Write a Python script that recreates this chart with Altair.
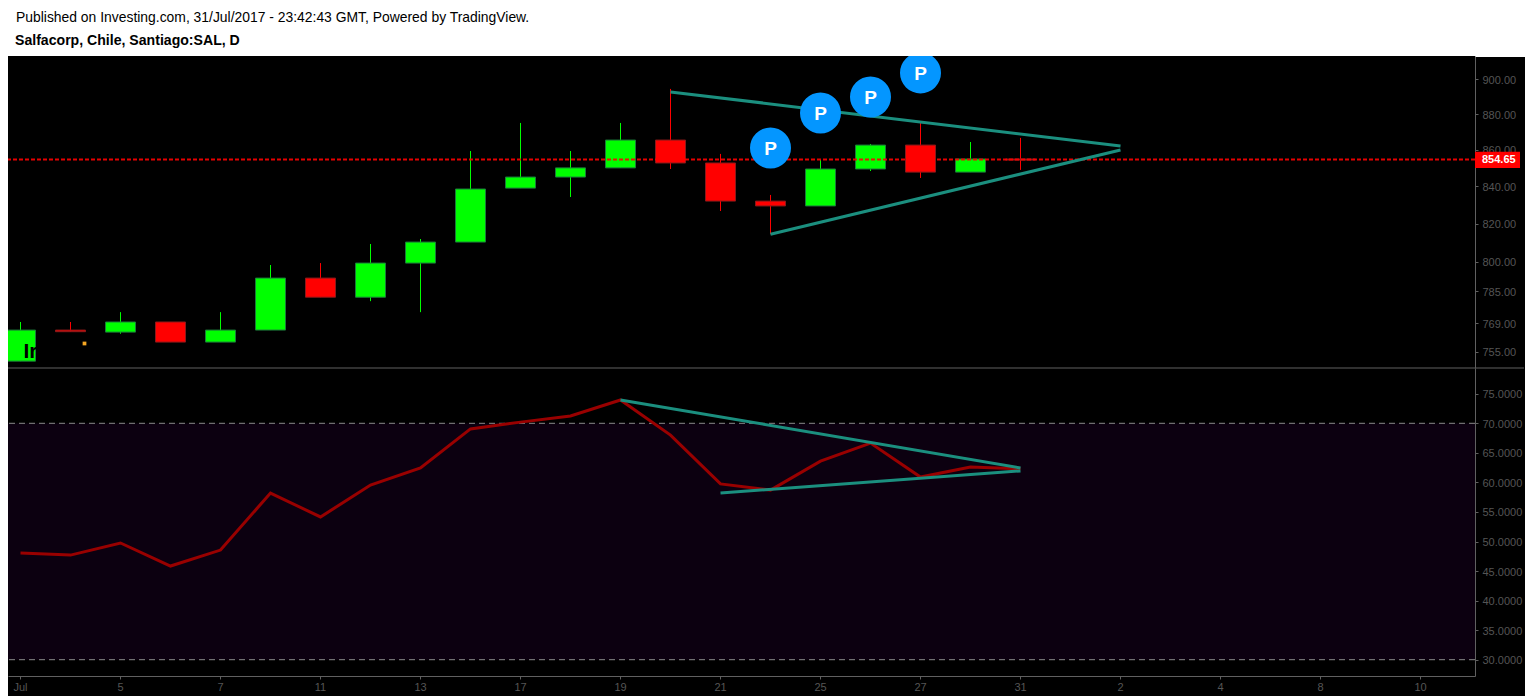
import altair as alt
import pandas as pd

FONT = "Liberation Sans"
header_lines = ["Published on Investing.com, 31/Jul/2017 - 23:42:43 GMT, Powered by TradingView.",
                "Salfacorp, Chile, Santiago:SAL, D"]
header_x = [8, 7]
header_y = [14, 37]
header_w = ["normal", "bold"]

idx = list(range(21))
opens  = [750.4,765.6,764.6,769.6,759.7,765.6,791.7,782.0,799.4,810.3,839.0,845.0,850.0,865.4,852.7,832.0,829.4,849.4,862.6,847.7,854.9]
closes = [765.6,764.8,769.6,759.7,765.6,791.7,782.0,799.4,810.3,838.5,845.0,850.0,865.4,852.7,832.0,829.4,849.4,862.6,847.7,854.9,854.3]
highs  = [769.6,769.6,774.5,769.6,774.5,798.4,799.4,809.3,811.9,859.3,875.0,859.3,875.0,894.4,857.7,835.3,854.3,863.2,876.1,864.3,866.6]
lows   = [750.4,764.8,763.8,759.7,759.7,765.6,782.0,780.0,774.5,810.3,839.0,834.2,850.0,849.4,826.7,814.4,829.4,848.3,844.5,847.7,848.9]
rsi    = [48.05,47.7,49.75,45.85,48.55,58.2,54.15,59.55,62.45,69.05,70.2,71.25,73.95,68.0,59.75,58.7,63.6,66.65,60.9,62.6,62.3]

price_ticks = [755,769,785,800,820,840,860,880,900]
rsi_ticks = [30,35,40,45,50,55,60,65,70,75]
x_tick_pos = [0,2,4,6,8,10,12,14,16,18,20,22,24,26,28]
x_tick_lab = ["Jul","5","7","11","13","17","19","21","25","27","31","2","4","8","10"]
last_price = 854.65

tri_top_x = [13,22]; tri_top_y = [892.7,862.1]
tri_low_x = [15,22]; tri_low_y = [814.4,859.9]
rsi_top_x = [12,20]; rsi_top_y = [73.95,62.45]
rsi_low_x = [14,20]; rsi_low_y = [58.2,61.95]
p_x = [15,16,17,18]
p_y = [861.0,880.6,889.8,903.7]

BG="#000000"; AX="#606060"; LAB="#555555"; TEAL="#1B8F7F"

xscale = alt.Scale(domain=[-0.25,29.09], nice=False, zero=False, padding=0)
pscale = alt.Scale(type="log", domain=[747.1,913.6], nice=False, clamp=False)
rscale = alt.Scale(domain=[27.24,79.36], nice=False, zero=False)

expr = "{" + ",".join(f"'{p}':'{l}'" for p,l in zip(x_tick_pos,x_tick_lab)) + "}[datum.value]"

candles = pd.DataFrame(dict(i=idx,o=opens,c=closes,h=highs,l=lows))
candles["d"] = ["up" if c>=o else "down" for o,c in zip(opens,closes)]
colscale = alt.Scale(domain=["up","down"], range=["#00FF00","#FF0000"])
strokescale = alt.Scale(domain=["up","down"], range=["#1C7A3A","#8B1A1A"])

X = alt.X("i:Q", scale=xscale, axis=None)
yax = alt.Axis(orient="right", values=price_ticks, format=".2f", title=None, grid=False,
               domainColor=AX, tickColor=AX, tickSize=3, labelColor=LAB, labelFont=FONT,
               labelFontSize=11, labelPadding=4, labelOverlap=False, labelOffset=1)
def Yp(f):
    return alt.Y(f, scale=pscale, axis=yax)
wicks = alt.Chart(candles).mark_rule(strokeWidth=1, clip=True).encode(
    x=X, y=Yp("h:Q"), y2="l:Q",
    color=alt.Color("d:N", scale=colscale, legend=None))
bodies = alt.Chart(candles).mark_bar(size=30, strokeWidth=1, clip=True).encode(
    x=X, y=Yp("o:Q"), y2="c:Q",
    fill=alt.Fill("d:N", scale=colscale, legend=None),
    stroke=alt.Stroke("d:N", scale=strokescale, legend=None))
logo = alt.Chart(pd.DataFrame(dict(i=[0.06],v=[752.0],t=["Ir"]))).mark_text(
    font=FONT, fontSize=21, fontWeight="bold", color="#000000", align="left", baseline="alphabetic", clip=True
).encode(x=X, y=Yp("v:Q"), text="t:N")
dot = alt.Chart(pd.DataFrame(dict(i=[1.28],v=[759.0]))).mark_point(
    shape="square", filled=True, size=14, color="#F5A623", opacity=1).encode(x=X, y=Yp("v:Q"))
pline = alt.Chart(pd.DataFrame(dict(v=[last_price]))).mark_rule(
    color="#FF0000", strokeWidth=2, strokeDash=[4,2], opacity=0.9).encode(y=Yp("v:Q"))

def seg(xs, ys, Yf, Xf, w=3):
    return alt.Chart(pd.DataFrame(dict(i=xs,v=ys))).mark_line(color=TEAL, strokeWidth=w, clip=True).encode(
        x=Xf, y=Yf("v:Q"))

circ_df = pd.DataFrame(dict(i=p_x,v=p_y,t=["P"]*4))
circles = alt.Chart(circ_df).mark_circle(color="#0496FF", opacity=1, size=1681, clip=True).encode(
    x=X, y=Yp("v:Q"))
ptext = alt.Chart(circ_df).mark_text(font=FONT, fontSize=19, fontWeight="bold", color="#FFFFFF",
                                     align="center", baseline="middle", dy=1, clip=True).encode(
    x=X, y=Yp("v:Q"), text="t:N")
tag_df = pd.DataFrame(dict(a=[850.0],b=[858.9],m=[last_price],t=["854.65"]))
tag = alt.Chart(tag_df).mark_rect(color="#FF0000").encode(
    x=alt.value(1467), x2=alt.value(1512), y=Yp("a:Q"), y2="b:Q")
tagtext = alt.Chart(tag_df).mark_text(font=FONT, fontSize=11, fontWeight="bold", color="#FFFFFF", align="left", baseline="middle", dy=1).encode(
    x=alt.value(1474), y=Yp("m:Q"), text="t:N")

top = alt.layer(wicks, bodies, logo, dot, pline, seg(tri_top_x,tri_top_y,Yp,X), seg(tri_low_x,tri_low_y,Yp,X),
                circles, ptext, tag, tagtext).resolve_scale(color="independent").properties(width=1467, height=312)

# RSI
raxis = alt.Axis(orient="right", values=rsi_ticks, format=".4f", title=None, grid=False,
        domainColor=AX, tickColor=AX, tickSize=3, labelColor=LAB, labelFont=FONT, labelFontSize=11, labelPadding=4, labelOverlap=False, labelOffset=1)
def Yr(f):
    return alt.Y(f, scale=rscale, axis=raxis)
Xb = alt.X("i:Q", scale=xscale, axis=alt.Axis(values=x_tick_pos, labelExpr=expr, title=None, grid=False,
           domainColor=AX, tickColor=AX, tickSize=3, tickOffset=-0.5, labelColor=LAB, labelFont=FONT, labelFontSize=11, labelPadding=2, labelOverlap=False))
band = alt.Chart(pd.DataFrame(dict(a=[30],b=[70]))).mark_rect(color="#0C0010").encode(y=Yr("a:Q"), y2="b:Q")
lim = alt.Chart(pd.DataFrame(dict(v=[30,70]))).mark_rule(color="#8A8A8A", strokeWidth=1, strokeDash=[6,4]).encode(y=Yr("v:Q"))
rline = alt.Chart(pd.DataFrame(dict(i=idx,v=rsi))).mark_line(color="#990000", strokeWidth=3).encode(x=Xb, y=Yr("v:Q"))
sep = alt.Chart(pd.DataFrame(dict(k=[0]))).mark_rule(color=AX, strokeWidth=1, clip=False).encode(
    x=alt.value(0), x2=alt.value(1516), y=alt.value(0))
bottom = alt.layer(band, lim, rline, seg(rsi_top_x,rsi_top_y,Yr,Xb), seg(rsi_low_x,rsi_low_y,Yr,Xb), sep).properties(width=1467, height=308)

hdf = pd.DataFrame(dict(t=header_lines,x=header_x,y=header_y,w=header_w))
head = alt.Chart(hdf).mark_text(
    font=FONT, fontSize=13.9, align="left", baseline="alphabetic", color="#000000"
).encode(x=alt.X("x:Q", scale=None), y=alt.Y("y:Q", scale=None), text="t:N",
         ).transform_filter("datum.w=='normal'")
head2 = alt.Chart(hdf).mark_text(
    font=FONT, fontSize=14.1, fontWeight="bold", align="left", baseline="alphabetic", color="#000000"
).encode(x=alt.X("x:Q", scale=None), y=alt.Y("y:Q", scale=None), text="t:N",
         ).transform_filter("datum.w=='bold'")
header = alt.layer(head, head2).properties(width=1516, height=48,
    view=alt.ViewConfig(fill="#FFFFFF", stroke="#FFFFFF", strokeWidth=2))

chart = alt.vconcat(header, top.properties(view=alt.ViewConfig(fill=BG, stroke=None)),
                    bottom.properties(view=alt.ViewConfig(fill=BG, stroke=None)), spacing=0, bounds="flush"
).properties(background=BG, padding={"left":-1,"right":0,"top":-1,"bottom":4})
chart.save("out.html", embed_options={"renderer": "svg", "actions": False})
